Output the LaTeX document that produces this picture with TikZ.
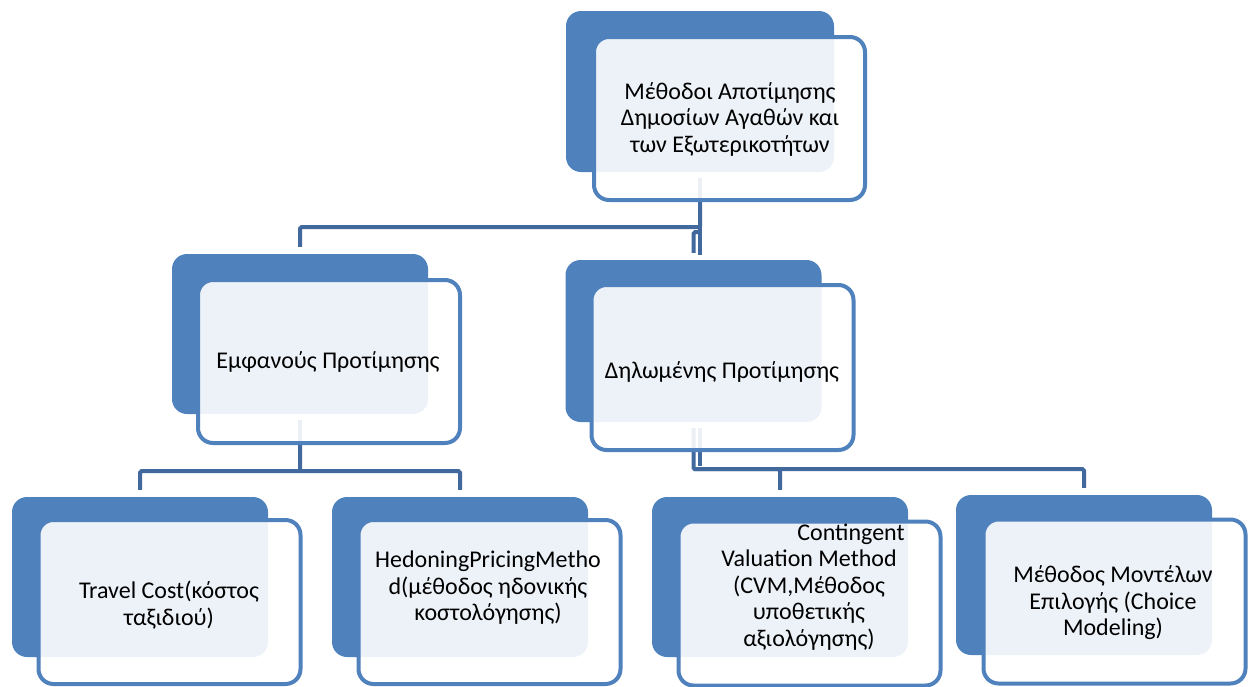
\documentclass[tikz,border=0pt]{standalone}
\usepackage{fontspec}
\setmainfont{Carlito}
\definecolor{boxblue}{HTML}{4F81BD}
\definecolor{connblue}{HTML}{41699E}
\begin{document}
\begin{tikzpicture}[x=1pt,y=-1pt,
  backbox/.style={fill=boxblue, draw=none, rounded corners=15pt, inner sep=0pt, minimum width=256pt, minimum height=160pt},
  frontbox/.style={fill=white, fill opacity=0.9, draw=boxblue, draw opacity=1, line width=4pt, rounded corners=15pt, inner sep=0pt, minimum width=262pt, minimum height=164pt},
  lbl/.style={font=\fontsize{24}{26.5}\selectfont, align=center, text=black, inner sep=0pt},
  conn/.style={draw=connblue, line width=4pt, rounded corners=1.5pt}]
\useasboundingbox (0,0) rectangle (1248,686);

% back boxes
\node[backbox, minimum width=268pt, minimum height=161pt] (topb) at (700,91.5) {};
\node[backbox] (l2b) at (300,334) {};
\node[backbox, minimum height=162pt] (r2b) at (693.5,341) {};
\node[backbox] (tcb) at (140,577) {};
\node[backbox] (hpb) at (460,577) {};
\node[backbox] (cvb) at (780,577) {};
\node[backbox] (cmb) at (1084,575) {};

% connectors
\draw[conn] ([yshift=-6pt]topb.south) -- ([yshift=-55pt]topb.south) -| ([yshift=7pt]l2b.north);
\draw[conn] ([yshift=-6pt]topb.south) -- ([yshift=-83pt]topb.south);
\draw[conn] ([yshift=-60pt]topb.south) -| ([yshift=7pt]r2b.north);
\draw[conn] ([yshift=-6pt]l2b.south) -- ([yshift=-57pt]l2b.south) -| ([yshift=7pt]tcb.north);
\draw[conn] ([yshift=-57pt]l2b.south) -| ([yshift=7pt]hpb.north);
\draw[conn] ([yshift=-6pt]r2b.south) -- ([yshift=-47pt]r2b.south) -| ([yshift=7pt]cvb.north);
\draw[conn] ([yshift=-47pt]r2b.south) -| ([yshift=7pt]cmb.north);
\draw[conn] ([xshift=6.5pt,yshift=-6pt]r2b.south) -- ([xshift=6.5pt,yshift=-44pt]r2b.south);

% front boxes
\node[frontbox, minimum width=271pt, minimum height=163pt] (topf) at (729.5,118.5) {};
\node[frontbox, minimum height=163pt] (l2f) at (329,361.5) {};
\node[frontbox, minimum height=165pt] (r2f) at (722.5,367.5) {};
\node[frontbox] (tcf) at (169.5,602) {};
\node[frontbox] (hpf) at (489.5,602) {};
\node[frontbox] (cvf) at (809.5,603.5) {};
\node[frontbox] (cmf) at (1114.5,601.5) {};

% texts
\node[lbl] (topt) at (730,119) {Μέθοδοι Αποτίμησης\\Δημοσίων Αγαθών και\\των Εξωτερικοτήτων};
\node[lbl] (l2t) at (328,362) {Εμφανούς Προτίμησης};
\node[lbl] (r2t) at (722,372) {Δηλωμένης Προτίμησης};
\node[lbl] (tct) at (169,605) {Travel Cost(κόστος\\ταξιδιού)};
\node[lbl] (hpt) at (488,588) {HedoningPricingMetho\\d(μέθοδος ηδονικής\\κοστολόγησης)};
\node[lbl] (cvt) at (809,587) {\hspace*{84pt}Contingent\\Valuation Method\\(CVM,Μέθοδος\\υποθετικής\\αξιολόγησης)};
\node[lbl] (cmt) at (1113,603) {Μέθοδος Μοντέλων\\Επιλογής (Choice\\Modeling)};
\end{tikzpicture}
\end{document}
